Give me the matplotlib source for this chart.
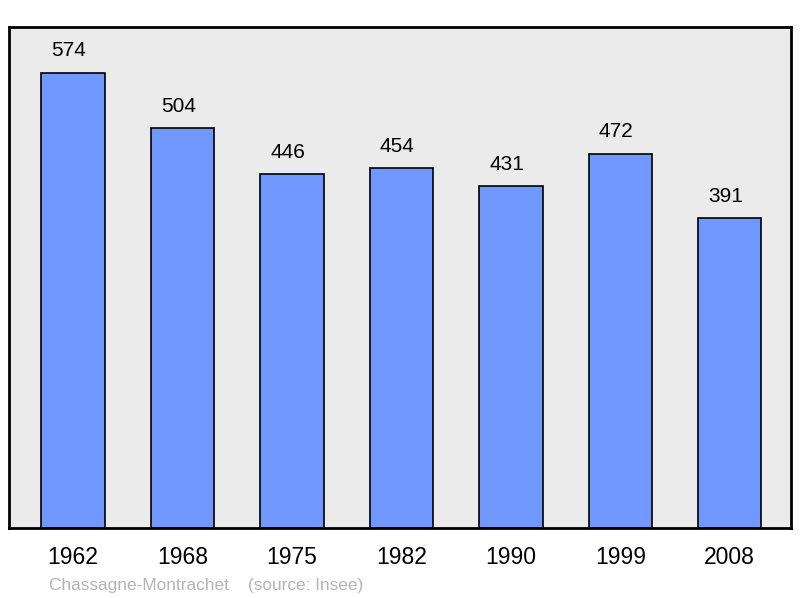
"""Population bar chart for Chassagne-Montrachet."""
import matplotlib
matplotlib.use("Agg")
import matplotlib.pyplot as plt
import numpy as np

plt.rcParams['font.family'] = ['Liberation Sans', 'DejaVu Sans']

# data
years = ["1962", "1968", "1975", "1982", "1990", "1999", "2008"]
population = [574, 504, 446, 454, 431, 472, 391]

fig = plt.figure(figsize=(8, 5.98), dpi=100)
ax = fig.add_axes([0.01125, 0.117, 0.9775, 0.838])
ax.set_facecolor("#ebebeb")

x = np.arange(len(years))
ax.bar(x, population, width=0.58, color="#7098ff", edgecolor="black", linewidth=1.2, zorder=2)

# value labels above bars
for xi, v in zip(x, population):
    ax.annotate(str(v), (xi, v), xytext=(-3, 9), textcoords="offset points",
                ha="center", va="bottom", fontsize=15)

ax.set_xlim(-0.585, 6.56)
ax.set_ylim(0, 632)
ax.set_xticks(x)
ax.set_xticklabels(years, fontsize=16.5)
ax.tick_params(axis="x", length=0, pad=13)
ax.set_yticks([])
for s in ax.spines.values():
    s.set_linewidth(2)

fig.text(0.061, 0.013, "Chassagne-Montrachet    (source: Insee)", color="#b4b4b4", fontsize=12.4)

fig.savefig("out.png", dpi=100)
